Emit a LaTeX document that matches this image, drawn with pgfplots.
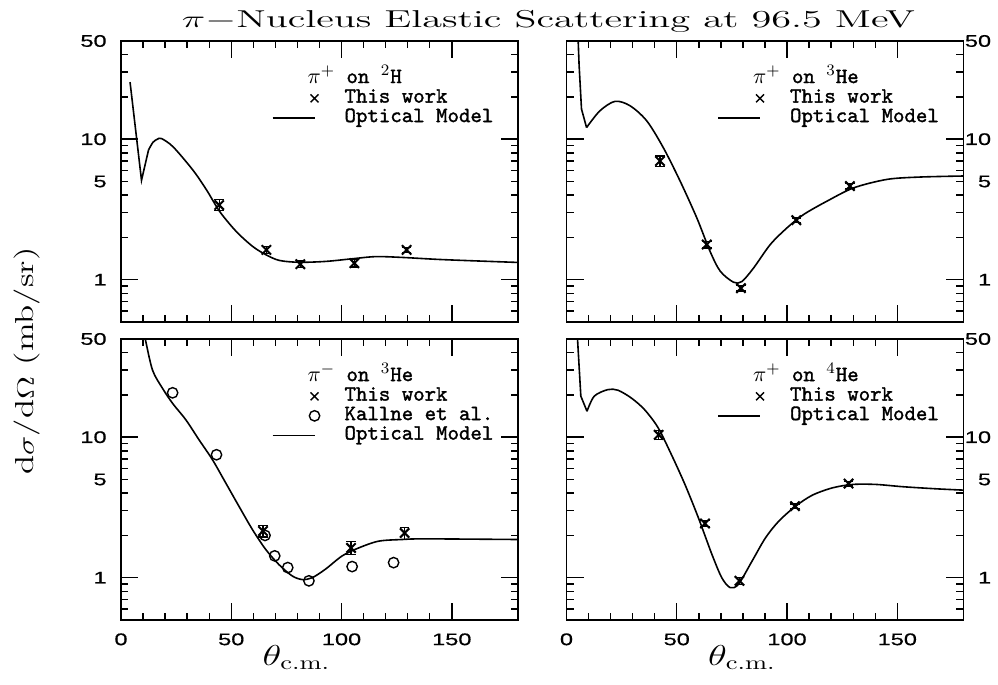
\documentclass[border=0pt]{standalone}
\usepackage{fontspec}
\usepackage{graphicx}
\usepackage{pgfplots}
\pgfplotsset{compat=1.18}
\newfontfamily\tickfont{Liberation Sans}[FakeStretch=1.4, FakeBold=0.6]
\newfontfamily\legfont{lmmono10-regular}[Extension=.otf, FakeBold=1.5]

\pgfplotsset{
  every axis/.append style={
    width=198.5pt, height=140.5pt, scale only axis, anchor=south west,
    xmin=0, xmax=180, ymin=0.5, ymax=50,
    xtick={0,50,100,150}, minor x tick num=4,
    ytick={1,10}, yticklabels={1,10},
    extra y ticks={5,50}, extra y tick labels={5,50},
    extra y tick style={major tick length=3.5pt},
    minor ytick={0.6,0.7,0.8,0.9,2,3,4,6,7,8,9,20,30,40},
    tick align=inside, major tick length=8.5pt, minor tick length=3.5pt,
    axis line style={line width=0.8pt},
    tick style={line width=0.7pt, black},
    tick label style={font=\fontsize{8.4}{9}\tickfont, inner sep=0pt},
    legend style={at={(axis description cs:0.380,0.9)}, anchor=north west,
      draw=none, fill=none, inner sep=0pt, outer sep=0pt,
      column sep=12pt, row sep=0pt,
      font={\fontsize{10.9}{12}\legfont},
      nodes={inner sep=0pt, text height=7pt, text depth=2.75pt, anchor=west}},
    legend cell align=left,
  },
  /pgf/number format/assume math mode=true,
  myleft/.style={yticklabel style={anchor=east, xshift=-7pt}},
  myright/.style={yticklabel pos=right, yticklabel style={anchor=east, xshift=14pt}},
  mytop/.style={xticklabel=\empty},
  mybottom/.style={xticklabel style={anchor=north, yshift=-6.5pt},
    xlabel={\scalebox{1.35}[1]{\fontsize{14}{16}\selectfont$\theta_{\mathrm{c.m.}}$}},
    xlabel style={at={(axis description cs:0.5,0)}, anchor=north, yshift=-12.5pt, xshift=-11.5pt, inner sep=0pt}},
  mycurve/.style={line width=0.8pt, black, forget plot},
  mydatx/.style={only marks, mark=x, mark size=3.3pt, line width=1pt, black, forget plot,
    error bars/y dir=both, error bars/y explicit,
    error bars/error bar style={line width=0.6pt},
    error bars/error mark options={rotate=90, mark size=2.4pt, line width=0.6pt}},
  mydato/.style={only marks, mark=o, mark size=2.6pt, line width=0.7pt, black, forget plot},
  myxleg/.style={legend image code/.code={\path[draw=none, fill=none] (0pt,-3pt) rectangle (24pt,3pt);
    \draw[line width=0.7pt] plot[mark=x, mark size=2.8pt] coordinates {(21pt,0pt)};}},
  myoleg/.style={legend image code/.code={\path[draw=none, fill=none] (0pt,-3pt) rectangle (24pt,3pt);
    \draw[line width=0.7pt] plot[mark=o, mark size=2.6pt] coordinates {(21pt,0pt)};}},
  mylleg/.style={legend image code/.code={\path[draw=none, fill=none] (0pt,-3pt) rectangle (24pt,3pt);
    \draw[line width=0.7pt] (0pt,0pt) -- (21pt,0pt);}},
}

\begin{document}
\begin{tikzpicture}
\path[use as bounding box] (0pt,0pt) rectangle (499pt,342.5pt);

% ---------------- top left: pi+ on 2H
\begin{semilogyaxis}[myleft, mytop, at={(60.5pt,181.5pt)}]
\addlegendimage{empty legend}
\addlegendentry{\hspace*{-18.5pt}$\pi^{+}$ on $^{2}$H}
\addlegendimage{myxleg}
\addlegendentry{This work}
\addlegendimage{mylleg}
\addlegendentry{Optical Model}
\addplot[mycurve] coordinates {(4.1,25.5) (9.3,5.1) (12.5,8.4)};
\addplot[mycurve, smooth] coordinates {(12.5,8.4) (14.5,9.5) (16.5,10.0) (18.4,10.1) (23.7,8.8) (32.7,6.0) (38.8,4.35) (44.8,3.05) (52.3,2.2) (59.8,1.72) (65.9,1.50) (71.9,1.37) (81,1.33) (93,1.35) (105,1.41) (115.6,1.46) (127.7,1.44) (145.8,1.39) (178.2,1.33) (180,1.33)};
\addplot[mydatx] coordinates {(44.5,3.40) +- (0,0.30) (65.9,1.63) +- (0,0.10) (81.3,1.29) +- (0,0.07) (105.8,1.31) +- (0,0.08) (129.5,1.63) +- (0,0.07)};
\end{semilogyaxis}

% ---------------- top right: pi+ on 3He
\begin{semilogyaxis}[myright, mytop, at={(283.25pt,181.5pt)}]
\addlegendimage{empty legend}
\addlegendentry{\hspace*{-18.5pt}$\pi^{+}$ on $^{3}$He}
\addlegendimage{myxleg}
\addlegendentry{This work}
\addlegendimage{mylleg}
\addlegendentry{Optical Model}
\addplot[mycurve] coordinates {(5.2,60) (5.3,50) (5.7,34) (6.8,16.4) (9.1,12.1)};
\addplot[mycurve, smooth] coordinates {(9.1,12.1) (15.1,15.9) (22,18.6) (28.8,17.3) (36.4,13.5) (43.9,8.7) (51.5,5.04) (59.1,2.75) (65.1,1.59) (69.7,1.15) (75.7,0.96) (79.5,0.97) (84.8,1.21) (92.4,1.78) (100,2.34) (107.5,2.91) (118.2,3.63) (130.3,4.51) (145.5,5.18) (160.6,5.38) (180,5.47)};
\addplot[mydatx] coordinates {(42.4,7.0) +- (0,0.6) (63.6,1.78) +- (0,0.10) (79.1,0.87) +- (0,0.04) (104.2,2.65) +- (0,0.10) (128.5,4.64) +- (0,0.18)};
\end{semilogyaxis}

% ---------------- bottom left: pi- on 3He
\begin{semilogyaxis}[myleft, mybottom, at={(60.5pt,32.5pt)}]
\addlegendimage{empty legend}
\addlegendentry{\hspace*{-18.5pt}$\pi^{-}$ on $^{3}$He}
\addlegendimage{myxleg}
\addlegendentry{This work}
\addlegendimage{myoleg}
\addlegendentry{Kallne et al.}
\addlegendimage{mylleg}
\addlegendentry{Optical Model}
\addplot[mycurve, smooth] coordinates {(9.5,65) (11,50) (14.3,30) (18.8,22.3) (23.4,17.4) (29.4,13.3) (35.4,9.57) (41.5,6.9) (47.5,4.72) (53.5,3.22) (59.6,2.2) (65.6,1.59) (71.6,1.24) (77.6,1.03) (82.2,0.97) (86.7,1.0) (92.7,1.15) (100.3,1.43) (107.8,1.63) (116.8,1.82) (127.4,1.87) (137.9,1.89) (180,1.87)};
\addplot[mydatx] coordinates {(64.4,2.15) +- (0,0.20) (104.3,1.63) +- (0,0.17) (128.6,2.08) +- (0,0.20)};
\addplot[mydato] coordinates {(23.4,20.7) (43.3,7.5) (65.3,2.0) (69.7,1.43) (75.6,1.18) (85.2,0.95) (104.8,1.2) (123.6,1.28)};
\end{semilogyaxis}

% ---------------- bottom right: pi+ on 4He
\begin{semilogyaxis}[myright, mybottom, at={(283.25pt,32.5pt)}]
\addlegendimage{empty legend}
\addlegendentry{\hspace*{-18.5pt}$\pi^{+}$ on $^{4}$He}
\addlegendimage{myxleg}
\addlegendentry{This work}
\addlegendimage{mylleg}
\addlegendentry{Optical Model}
\addplot[mycurve] coordinates {(4.8,70) (5.0,50) (6.5,19.6) (9.3,15.3)};
\addplot[mycurve, smooth] coordinates {(9.3,15.3) (12.6,19.6) (18.7,21.8) (23.3,21.6) (29.4,19.0) (35.4,15.7) (41.5,11.7) (47.6,7.5) (53.7,4.61) (59.8,2.67) (65.9,1.47) (70.4,1.0) (74.2,0.85) (78,0.90) (84.1,1.31) (90.2,1.92) (96.3,2.53) (103.9,3.23) (111.5,3.87) (120.6,4.36) (129.8,4.61) (140.4,4.61) (152.6,4.44) (167.8,4.29) (180,4.20)};
\addplot[mydatx] coordinates {(41.8,10.4) +- (0,0.8) (62.8,2.43) +- (0,0.12) (78.4,0.95) +- (0,0.05) (103.6,3.23) +- (0,0.12) (127.9,4.68) +- (0,0.18)};
\end{semilogyaxis}

\node[anchor=base] at (274.25pt,328.5pt) {\resizebox{366.5pt}{\height}{\fontsize{12.2}{14}\selectfont $\pi-$Nucleus Elastic Scattering at 96.5 MeV}};
\node[rotate=90, anchor=center, inner sep=0pt] at (13.75pt,162pt) {\resizebox{113.5pt}{\height}{\fontsize{13}{15}\selectfont d$\sigma$/d$\Omega$ (mb/sr)}};
\end{tikzpicture}
\end{document}
